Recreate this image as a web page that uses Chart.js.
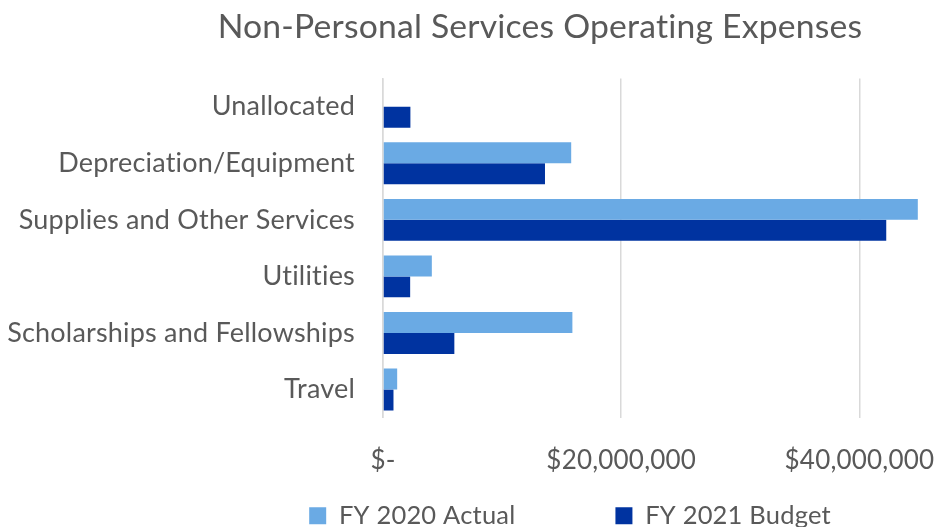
<!DOCTYPE html>
<html>
<head>
<meta charset="utf-8">
<title>Non-Personal Services Operating Expenses</title>
<script src="https://cdn.jsdelivr.net/npm/chart.js@4"></script>
<style>
    html, body { margin: 0; padding: 0; background: #fff; }
    #wrap { width: 936px; height: 527px; position: relative; }
</style>
</head>
<body>
<div id="wrap"><canvas id="mainChart"></canvas></div>
<script>
// dados
const categories = [
    'Unallocated',
    'Depreciation/Equipment',
    'Supplies and Other Services',
    'Utilities',
    'Scholarships and Fellowships',
    'Travel'
];
const fy2020Actual = [0, 15800000, 44900000, 4100000, 15900000, 1190000];
const fy2021Budget = [2300000, 13600000, 42250000, 2280000, 5990000, 880000];
const xTicks = [0, 20000000, 40000000];
const xMax = 45000000;

const FONT = 'Lato, "Open Sans", sans-serif';
const TEXT = '#595959';
const LEGEND_PAD = 100;

// sem ligaduras "ti" do Lato
const noLigatures = {
    id: 'noLigatures',
    beforeUpdate(chart) { chart.ctx.letterSpacing = '0.2px'; },
    beforeDraw(chart) { chart.ctx.letterSpacing = '0.2px'; }
};

// move título e legenda para onde estão no original
const shiftBoxes = {
    id: 'shiftBoxes',
    afterLayout(chart) {
        const t = chart.titleBlock;
        t.left = 2 * 540 - t.right;
        const lg = chart.legend;
        lg.left = 570 - 420;
        lg.right = 570 + 420;
        lg.top = chart.height - 13 - 11 - LEGEND_PAD;
        lg.bottom = chart.height;
    }
};

const fmtMoney = (v) => {
    if (v === 0) return '$-';
    return '$' + v.toLocaleString('en-US');
};

const ctx = document.getElementById('mainChart').getContext('2d');

new Chart(ctx, {
    type: 'bar',
    data: {
        labels: categories,
        datasets: [
            {
                label: 'FY 2020 Actual',
                data: fy2020Actual,
                backgroundColor: '#6AAAE4',
                categoryPercentage: 0.74,
                barPercentage: 1.0
            },
            {
                label: 'FY 2021 Budget',
                data: fy2021Budget,
                backgroundColor: '#0033A0',
                categoryPercentage: 0.74,
                barPercentage: 1.0
            }
        ]
    },
    options: {
        indexAxis: 'y',
        responsive: true,
        maintainAspectRatio: false,
        animation: false,
        layout: { padding: { left: 0, right: 17, top: 0, bottom: 0 } },
        plugins: {
            title: {
                display: true,
                text: 'Non-Personal Services Operating Expenses',
                color: TEXT,
                font: { family: FONT, size: 33.7, weight: 'normal' },
                padding: { top: 7, bottom: 31 }
            },
            legend: {
                position: 'bottom',
                maxHeight: 24,
                labels: {
                    color: TEXT,
                    font: { family: FONT, size: 25.5 },
                    boxWidth: 17,
                    boxHeight: 17,
                    padding: LEGEND_PAD
                }
            },
            tooltip: { enabled: false }
        },
        scales: {
            x: {
                min: 0,
                max: xMax,
                afterBuildTicks: (scale) => {
                    scale.ticks = xTicks.map(v => ({ value: v }));
                },
                afterFit: (scale) => {
                    scale.paddingRight = 0;
                    scale.paddingLeft = 0;
                },
                grid: { color: '#D9D9D9', lineWidth: 1.5, drawTicks: false },
                border: { display: false },
                ticks: {
                    color: TEXT,
                    font: { family: FONT, size: 26 },
                    padding: 27,
                    maxRotation: 0,
                    callback: (v) => fmtMoney(v)
                }
            },
            y: {
                afterFit: (scale) => { scale.width = 383; },
                grid: { display: false, drawTicks: false },
                border: { display: true, color: '#D9D9D9', width: 1.5 },
                ticks: {
                    color: TEXT,
                    font: { family: FONT, size: 27 },
                    padding: 28
                }
            }
        }
    },
    plugins: [noLigatures, shiftBoxes]
});
</script>
</body>
</html>
